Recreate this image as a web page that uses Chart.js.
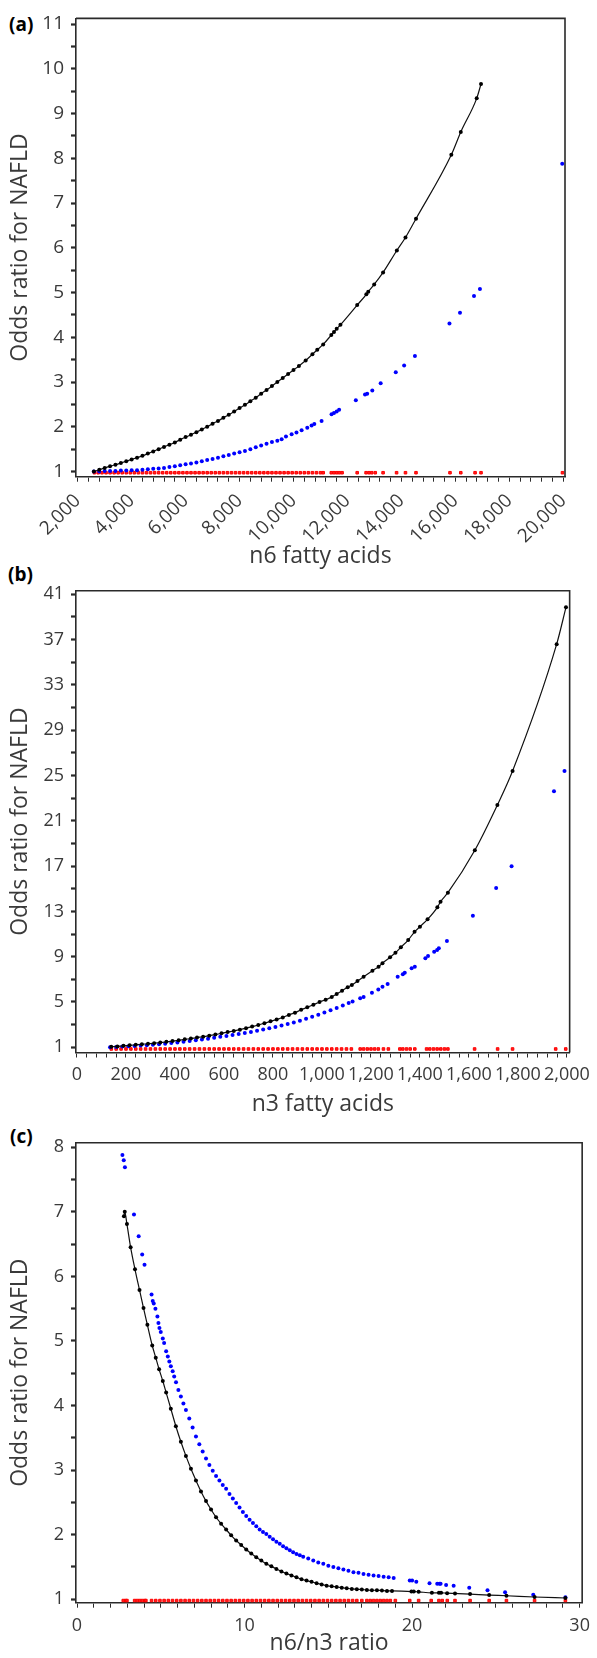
<!DOCTYPE html>
<html><head><meta charset="utf-8">
<script src="https://cdn.jsdelivr.net/npm/chart.js@4.4.1/dist/chart.umd.min.js"></script>
<style>
html,body{margin:0;padding:0;background:#fff;}
body{width:597px;height:1658px;position:relative;overflow:hidden;}
canvas{position:absolute;left:0;top:0;}
.lab{position:absolute;font-family:"Open Sans","DejaVu Sans",sans-serif;font-weight:700;font-size:19px;color:#000;line-height:19px;}
</style></head><body>
<div class="lab" style="left:9px;top:15px">(a)</div>
<div class="lab" style="left:8px;top:565px">(b)</div>
<div class="lab" style="left:10px;top:1127px">(c)</div>
<canvas id="ca" width="597" height="1658"></canvas>
<canvas id="cb" width="597" height="1658"></canvas>
<canvas id="cc" width="597" height="1658"></canvas>
<script>
// ---------------- Panel (a): n6 fatty acids ----------------
const aXTickValues = [2000,4000,6000,8000,10000,12000,14000,16000,18000,20000];
const aXTickLabels = ['2,000','4,000','6,000','8,000','10,000','12,000','14,000','16,000','18,000','20,000'];
const aYTickValues = [1,2,3,4,5,6,7,8,9,10,11];
const aYTickLabels = ['1','2','3','4','5','6','7','8','9','10','11'];
const aBlack = [[2600,1.00],[2800,1.04],[3000,1.08],[3200,1.12],[3400,1.15],[3600,1.19],[3800,1.23],[4000,1.27],
 [4200,1.31],[4400,1.35],[4600,1.40],[4800,1.45],[5000,1.50],[5200,1.55],[5400,1.60],[5600,1.65],[5800,1.71],[6000,1.77],
 [6200,1.82],[6400,1.88],[6600,1.94],[6800,2.00],[7000,2.07],[7200,2.13],[7400,2.20],[7600,2.27],[7800,2.34],[8000,2.42],
 [8200,2.49],[8400,2.57],[8600,2.65],[8800,2.74],[9000,2.82],[9200,2.91],[9400,3.00],[9600,3.09],[9800,3.18],[10000,3.27],
 [10200,3.36],[10450,3.48],[10700,3.62],[10880,3.72],[11100,3.84],[11400,4.05],[11500,4.12],[11600,4.19],[11740,4.28],
 [12360,4.72],[12700,4.96],[12770,5.02],[12990,5.18],[13320,5.45],[13830,5.94],[14150,6.23],[14540,6.65],
 [15850,8.08],[16200,8.59],[16790,9.34],[16950,9.66]];
const aBlue = [[2600,1.00],[2800,1.00],[3000,1.01],[3200,1.01],[3400,1.01],[3600,1.02],[3800,1.02],[4000,1.03],
 [4200,1.03],[4400,1.04],[4600,1.05],[4800,1.06],[5000,1.07],[5200,1.08],[5400,1.10],[5600,1.12],[5800,1.14],[6000,1.16],
 [6200,1.18],[6400,1.20],[6600,1.23],[6800,1.26],[7000,1.28],[7200,1.31],[7400,1.34],[7600,1.37],[7800,1.40],[8000,1.43],
 [8200,1.46],[8400,1.50],[8600,1.54],[8800,1.58],[9000,1.62],[9200,1.66],[9400,1.69],[9560,1.72],[9720,1.78],[9930,1.83],
 [10110,1.87],[10300,1.92],[10510,1.98],[10670,2.03],[10770,2.06],[11040,2.13],[11410,2.28],[11500,2.31],[11600,2.34],
 [11690,2.38],[12310,2.59],[12650,2.72],[12730,2.74],[12920,2.81],[13230,2.97],[13790,3.22],[14100,3.37],[14500,3.58],
 [15780,4.31],[16170,4.55],[16690,4.92],[16910,5.08],[19960,7.88]];
const aRedX = [2620,2760,2900,3050,3200,3350,3500,3650,3800,3950,4100,4250,4400,4550,4700,4850,5000,5150,5300,5450,
 5600,5750,5900,6050,6200,6350,6500,6650,6800,6950,7100,7250,7400,7550,7700,7850,8000,8150,8300,8450,8600,8750,8900,
 9050,9200,9350,9500,9650,9800,9950,10100,10250,10400,10550,10700,10850,11000,11100,11400,11500,11600,11700,11800,
 12360,12690,12800,12900,13030,13320,13820,14150,14540,15800,16200,16730,16950,19970];
const aRedLevel = 0.973;

// ---------------- Panel (b): n3 fatty acids ----------------
const bXTickValues = [0,200,400,600,800,1000,1200,1400,1600,1800,2000];
const bXTickLabels = ['0','200','400','600','800','1,000','1,200','1,400','1,600','1,800','2,000'];
const bYTickValues = [1,5,9,13,17,21,25,29,33,37,41];
const bYTickLabels = ['1','5','9','13','17','21','25','29','33','37','41'];
const bBlack = [[140,1.04],[165,1.08],[190,1.13],[215,1.17],[240,1.22],[265,1.27],[290,1.31],[315,1.36],[340,1.42],
 [365,1.48],[390,1.55],[415,1.62],[440,1.70],[465,1.77],[490,1.86],[515,1.93],[540,2.03],[565,2.12],[590,2.23],[615,2.34],
 [640,2.44],[665,2.56],[690,2.69],[715,2.83],[740,2.97],[765,3.13],[790,3.29],[815,3.46],[840,3.63],[865,3.86],[890,4.06],
 [915,4.31],[940,4.53],[965,4.76],[990,5.00],[1015,5.20],[1040,5.45],[1060,5.70],[1082,6.00],[1105,6.30],[1122,6.50],
 [1145,6.85],[1170,7.23],[1206,7.76],[1231,8.12],[1247,8.42],[1278,8.95],[1300,9.35],[1322,9.83],[1352,10.47],
 [1378,11.2],[1400,11.65],[1431,12.3],[1471,13.36],[1484,13.86],[1514,14.65],[1624,18.4],[1716,22.4],[1778,25.4],
 [1958,36.6],[1996,39.85]];
const bBlue = [[135,1.00],[160,1.03],[185,1.06],[210,1.09],[235,1.12],[260,1.15],[285,1.19],[310,1.23],[335,1.27],
 [360,1.32],[385,1.37],[410,1.43],[435,1.49],[460,1.56],[485,1.62],[510,1.69],[535,1.76],[560,1.84],[585,1.92],[610,2.00],
 [635,2.08],[660,2.17],[685,2.26],[710,2.36],[735,2.46],[760,2.57],[785,2.68],[810,2.80],[835,2.93],[860,3.06],[885,3.20],
 [910,3.34],[935,3.52],[960,3.70],[985,3.88],[1010,4.07],[1035,4.27],[1060,4.48],[1085,4.70],[1109,4.92],[1125,5.05],
 [1156,5.33],[1170,5.45],[1204,5.82],[1230,6.10],[1247,6.35],[1268,6.59],[1309,7.23],[1330,7.45],[1338,7.59],[1366,7.97],
 [1379,8.12],[1422,8.86],[1433,9.06],[1458,9.44],[1470,9.60],[1477,9.74],[1510,10.39],[1616,12.62],[1711,15.07],
 [1774,16.98],[1947,23.6],[1990,25.4]];
const bRedX = [140,160,180,200,220,240,260,280,300,320,340,360,380,400,420,440,460,480,500,520,540,560,580,600,620,
 640,660,680,700,720,740,760,780,800,820,840,860,880,900,920,940,960,980,1000,1020,1040,1060,1080,1100,1120,
 1156,1170,1185,1200,1215,1230,1251,1271,1318,1330,1345,1360,1379,1427,1440,1455,1470,1485,1500,1514,
 1623,1717,1778,1954,1995];
const bRedLevel = 0.85;

// ---------------- Panel (c): n6/n3 ratio ----------------
const cXTickValues = [0,10,20,30];
const cXTickLabels = ['0','10','20','30'];
const cYTickValues = [1,2,3,4,5,6,7,8];
const cYTickLabels = ['1','2','3','4','5','6','7','8'];
const cBlack = [[2.80,6.93],[2.85,7.00],[2.98,6.81],[3.2,6.45],[3.46,6.11],[3.73,5.79],[3.97,5.51],[4.2,5.25],
 [4.49,4.93],[4.7,4.74],[4.9,4.56],[5.12,4.38],[5.32,4.20],[5.6,3.95],[5.9,3.68],[6.2,3.44],[6.5,3.22],[6.8,3.02],
 [7.1,2.84],[7.4,2.67],[7.7,2.52],[8.0,2.39],[8.3,2.27],[8.6,2.17],[8.9,2.08],[9.2,1.99],[9.5,1.91],[9.8,1.84],
 [10.1,1.77],[10.4,1.71],[10.7,1.65],[11.0,1.60],[11.3,1.55],[11.6,1.51],[11.9,1.47],[12.2,1.43],[12.5,1.40],
 [12.8,1.37],[13.1,1.34],[13.4,1.31],[13.7,1.29],[14.0,1.27],[14.3,1.25],[14.6,1.23],[14.9,1.21],[15.2,1.20],
 [15.5,1.19],[15.8,1.18],[16.1,1.17],[16.4,1.16],[16.7,1.155],[17.0,1.15],[17.3,1.145],[17.6,1.14],[17.9,1.14],
 [18.2,1.135],[18.5,1.13],[18.8,1.13],[19.96,1.12],[20.1,1.12],[20.39,1.115],[21.18,1.10],[21.6,1.10],[21.73,1.10],
 [22.09,1.095],[22.56,1.09],[23.46,1.08],[24.6,1.065],[25.63,1.055],[27.31,1.035],[29.15,1.02]];
const cBlue = [[2.71,7.88],[2.79,7.80],[2.86,7.69],[3.40,6.96],[3.68,6.62],[3.89,6.34],[4.03,6.18],[4.45,5.72],
 [4.52,5.62],[4.58,5.58],[4.68,5.50],[4.80,5.38],[4.86,5.28],[4.92,5.20],[5.0,5.14],[5.12,5.04],[5.2,4.97],[5.32,4.84],
 [5.42,4.76],[5.51,4.68],[5.6,4.61],[5.71,4.53],[5.8,4.45],[5.91,4.36],[6.05,4.24],[6.2,4.14],[6.35,4.03],[6.5,3.93],
 [6.7,3.80],[6.9,3.66],[7.1,3.52],[7.3,3.40],[7.5,3.29],[7.7,3.18],[7.9,3.08],[8.1,2.99],[8.3,2.91],[8.5,2.84],
 [8.7,2.77],[8.9,2.71],[9.1,2.63],[9.3,2.56],[9.5,2.49],[9.7,2.42],[9.9,2.35],[10.1,2.29],[10.3,2.23],[10.5,2.18],
 [10.7,2.13],[10.9,2.08],[11.1,2.04],[11.3,2.01],[11.5,1.97],[11.7,1.93],[11.9,1.89],[12.1,1.86],[12.3,1.82],
 [12.5,1.79],[12.7,1.76],[12.9,1.73],[13.1,1.70],[13.3,1.68],[13.5,1.66],[13.8,1.63],[14.1,1.60],[14.4,1.57],
 [14.7,1.55],[15.0,1.52],[15.3,1.50],[15.6,1.48],[15.9,1.46],[16.2,1.44],[16.5,1.42],[16.8,1.41],[17.1,1.39],
 [17.4,1.38],[17.7,1.37],[18.0,1.36],[18.3,1.35],[18.6,1.34],[18.9,1.33],[19.86,1.29],[20.0,1.29],[20.25,1.27],
 [21.04,1.25],[21.5,1.24],[21.64,1.24],[21.7,1.24],[22.03,1.22],[22.48,1.21],[23.41,1.18],[24.5,1.14],[25.55,1.11],
 [27.23,1.07],[29.15,1.03]];
const cRedX = [2.76,2.9,2.98,3.44,3.6,3.75,3.9,4.05,4.11,4.45,4.7,4.95,5.2,5.45,5.7,5.95,6.2,6.45,6.7,6.95,7.2,7.45,
 7.7,7.95,8.2,8.45,8.7,8.95,9.2,9.45,9.7,9.95,10.2,10.45,10.7,10.95,11.2,11.45,11.7,11.95,12.2,12.45,12.7,12.95,13.2,
 13.45,13.7,13.95,14.2,14.45,14.7,14.95,15.2,15.45,15.7,15.95,16.2,16.45,16.7,17.0,17.3,17.5,17.7,17.9,18.1,18.3,
 18.5,18.7,19.0,19.86,20.39,21.14,21.6,21.8,22.1,22.56,23.46,24.6,25.63,27.31,29.15];
const cRedLevel = 0.98;

// ---------------- drawing ----------------
const FONT = '"Open Sans", "DejaVu Sans", sans-serif';
const TXT = '#3a3a3a';
const AX = '#2a2a2a';

function stepTicks(min, max, step) {
  const out = [];
  for (let k = 0; min + k * step <= max + 1e-9; k++) out.push(+(min + k * step).toFixed(6));
  return out;
}
function labelFor(values, labels) {
  return (v) => {
    const i = values.findIndex(m => Math.abs(m - v) < 1e-6);
    return i >= 0 ? labels[i] : '';
  };
}
const frame = {
  id: 'frame',
  afterDatasetsDraw(chart) {
    const {ctx, chartArea: a} = chart;
    ctx.save();
    ctx.strokeStyle = AX; ctx.lineWidth = 1.6;
    ctx.beginPath();
    ctx.moveTo(a.left, a.top); ctx.lineTo(a.right, a.top); ctx.lineTo(a.right, a.bottom);
    ctx.stroke();
    ctx.restore();
  }
};
const pts = arr => arr.map(p => ({x: p[0], y: p[1]}));
const redPts = (xs, lvl) => xs.map(x => ({x: x, y: lvl}));

function build(id, o) {
  new Chart(document.getElementById(id), {
    type: 'scatter',
    data: {
      datasets: [
        {data: pts(o.black), showLine: true, borderColor: '#111', borderWidth: 1.2,
         cubicInterpolationMode: 'monotone', pointRadius: 2.0, pointBackgroundColor: '#000',
         pointBorderWidth: 0, pointStyle: 'circle'},
        {data: pts(o.blue), showLine: false, pointRadius: 2.0, pointBackgroundColor: '#0000ff',
         pointBorderWidth: 0, pointStyle: 'circle'},
        {data: redPts(o.redX, o.redLevel), showLine: false, pointStyle: 'rect', pointRadius: 1.8,
         pointBackgroundColor: '#ff2020', pointBorderColor: '#ff0000', pointBorderWidth: 1}
      ]
    },
    options: {
      responsive: false, animation: false, devicePixelRatio: 1,
      events: [],
      layout: {padding: o.pad},
      plugins: {legend: {display: false}, tooltip: {enabled: false}},
      scales: {
        x: {
          type: 'linear', min: o.xMin, max: o.xMax,
          afterBuildTicks: s => { s.ticks = stepTicks(o.xT0, o.xT1, o.xStep).map(v => ({value: v})); },
          afterFit: s => { s.height = o.xH; },
          grid: {drawOnChartArea: false, drawTicks: true, tickLength: 5, tickWidth: 1, tickColor: AX},
          border: {display: true, color: AX, width: 1.6},
          ticks: {autoSkip: false, maxRotation: o.rot, minRotation: o.rot, padding: o.xPad,
                  color: TXT, font: {family: FONT, size: o.xTickSize}, callback: labelFor(o.xVals, o.xLabels)},
          title: {display: true, text: o.xTitle, color: TXT, padding: {top: 0, bottom: 0},
                  font: {family: FONT, size: 23, lineHeight: 1.2}}
        },
        y: {
          type: 'linear', min: o.yMin, max: o.yMax,
          afterBuildTicks: s => { s.ticks = stepTicks(o.yT0, o.yT1, o.yStep).map(v => ({value: v})); },
          afterFit: s => { s.width = 76; },
          grid: {drawOnChartArea: false, drawTicks: true, tickLength: 5, tickWidth: 2.2, tickColor: AX},
          border: {display: true, color: AX, width: 1.6},
          ticks: {autoSkip: false, padding: 7, color: TXT, font: {family: FONT, size: o.yTickSize},
                  callback: labelFor(o.yVals, o.yLabels)},
          title: {display: true, text: 'Odds ratio for NAFLD', color: TXT, padding: {top: 7, bottom: 0},
                  font: {family: FONT, size: 23, lineHeight: 1.2}}
        }
      }
    },
    plugins: [frame]
  });
}

build('ca', {
  black: aBlack, blue: aBlue, redX: aRedX, redLevel: aRedLevel,
  xMin: 1937, xMax: 20063, yMin: 0.884, yMax: 11.127,
  xT0: 2000, xT1: 20000, xStep: 400, yT0: 1, yT1: 11, yStep: 0.5,
  xVals: aXTickValues, xLabels: aXTickLabels, yVals: aYTickValues, yLabels: aYTickLabels,
  xTitle: 'n6 fatty acids', rot: 45, xPad: 8, xTickSize: 19, yTickSize: 19, xH: 93.1,
  pad: {top: 16, left: 0, right: 32, bottom: 1658 - 476.7 - 93.1}
});
build('cb', {
  black: bBlack, blue: bBlue, redX: bRedX, redLevel: bRedLevel,
  xMin: -4, xMax: 2011, yMin: 0.54, yMax: 41.32,
  xT0: 0, xT1: 2000, xStep: 40, yT0: 1, yT1: 41, yStep: 2,
  xVals: bXTickValues, xLabels: bXTickLabels, yVals: bYTickValues, yLabels: bYTickLabels,
  xTitle: 'n3 fatty acids', rot: 0, xPad: 7, xTickSize: 18, yTickSize: 18, xH: 65.3,
  pad: {top: 590.7, left: 0, right: 24.3, bottom: 1658 - 1052.5 - 65.3}
});
build('cc', {
  black: cBlack, blue: cBlue, redX: cRedX, redLevel: cRedLevel,
  xMin: -0.06, xMax: 30.15, yMin: 0.947, yMax: 8.07,
  xT0: 0, xT1: 30, xStep: 1, yT0: 1, yT1: 8, yStep: 0.5,
  xVals: cXTickValues, xLabels: cXTickLabels, yVals: cYTickValues, yLabels: cYTickLabels,
  xTitle: 'n6/n3 ratio', rot: 0, xPad: 7, xTickSize: 18, yTickSize: 18, xH: 55,
  pad: {top: 1142.7, left: 0, right: 11.3, bottom: 1658 - 1602.7 - 55}
});
</script>
</body></html>
